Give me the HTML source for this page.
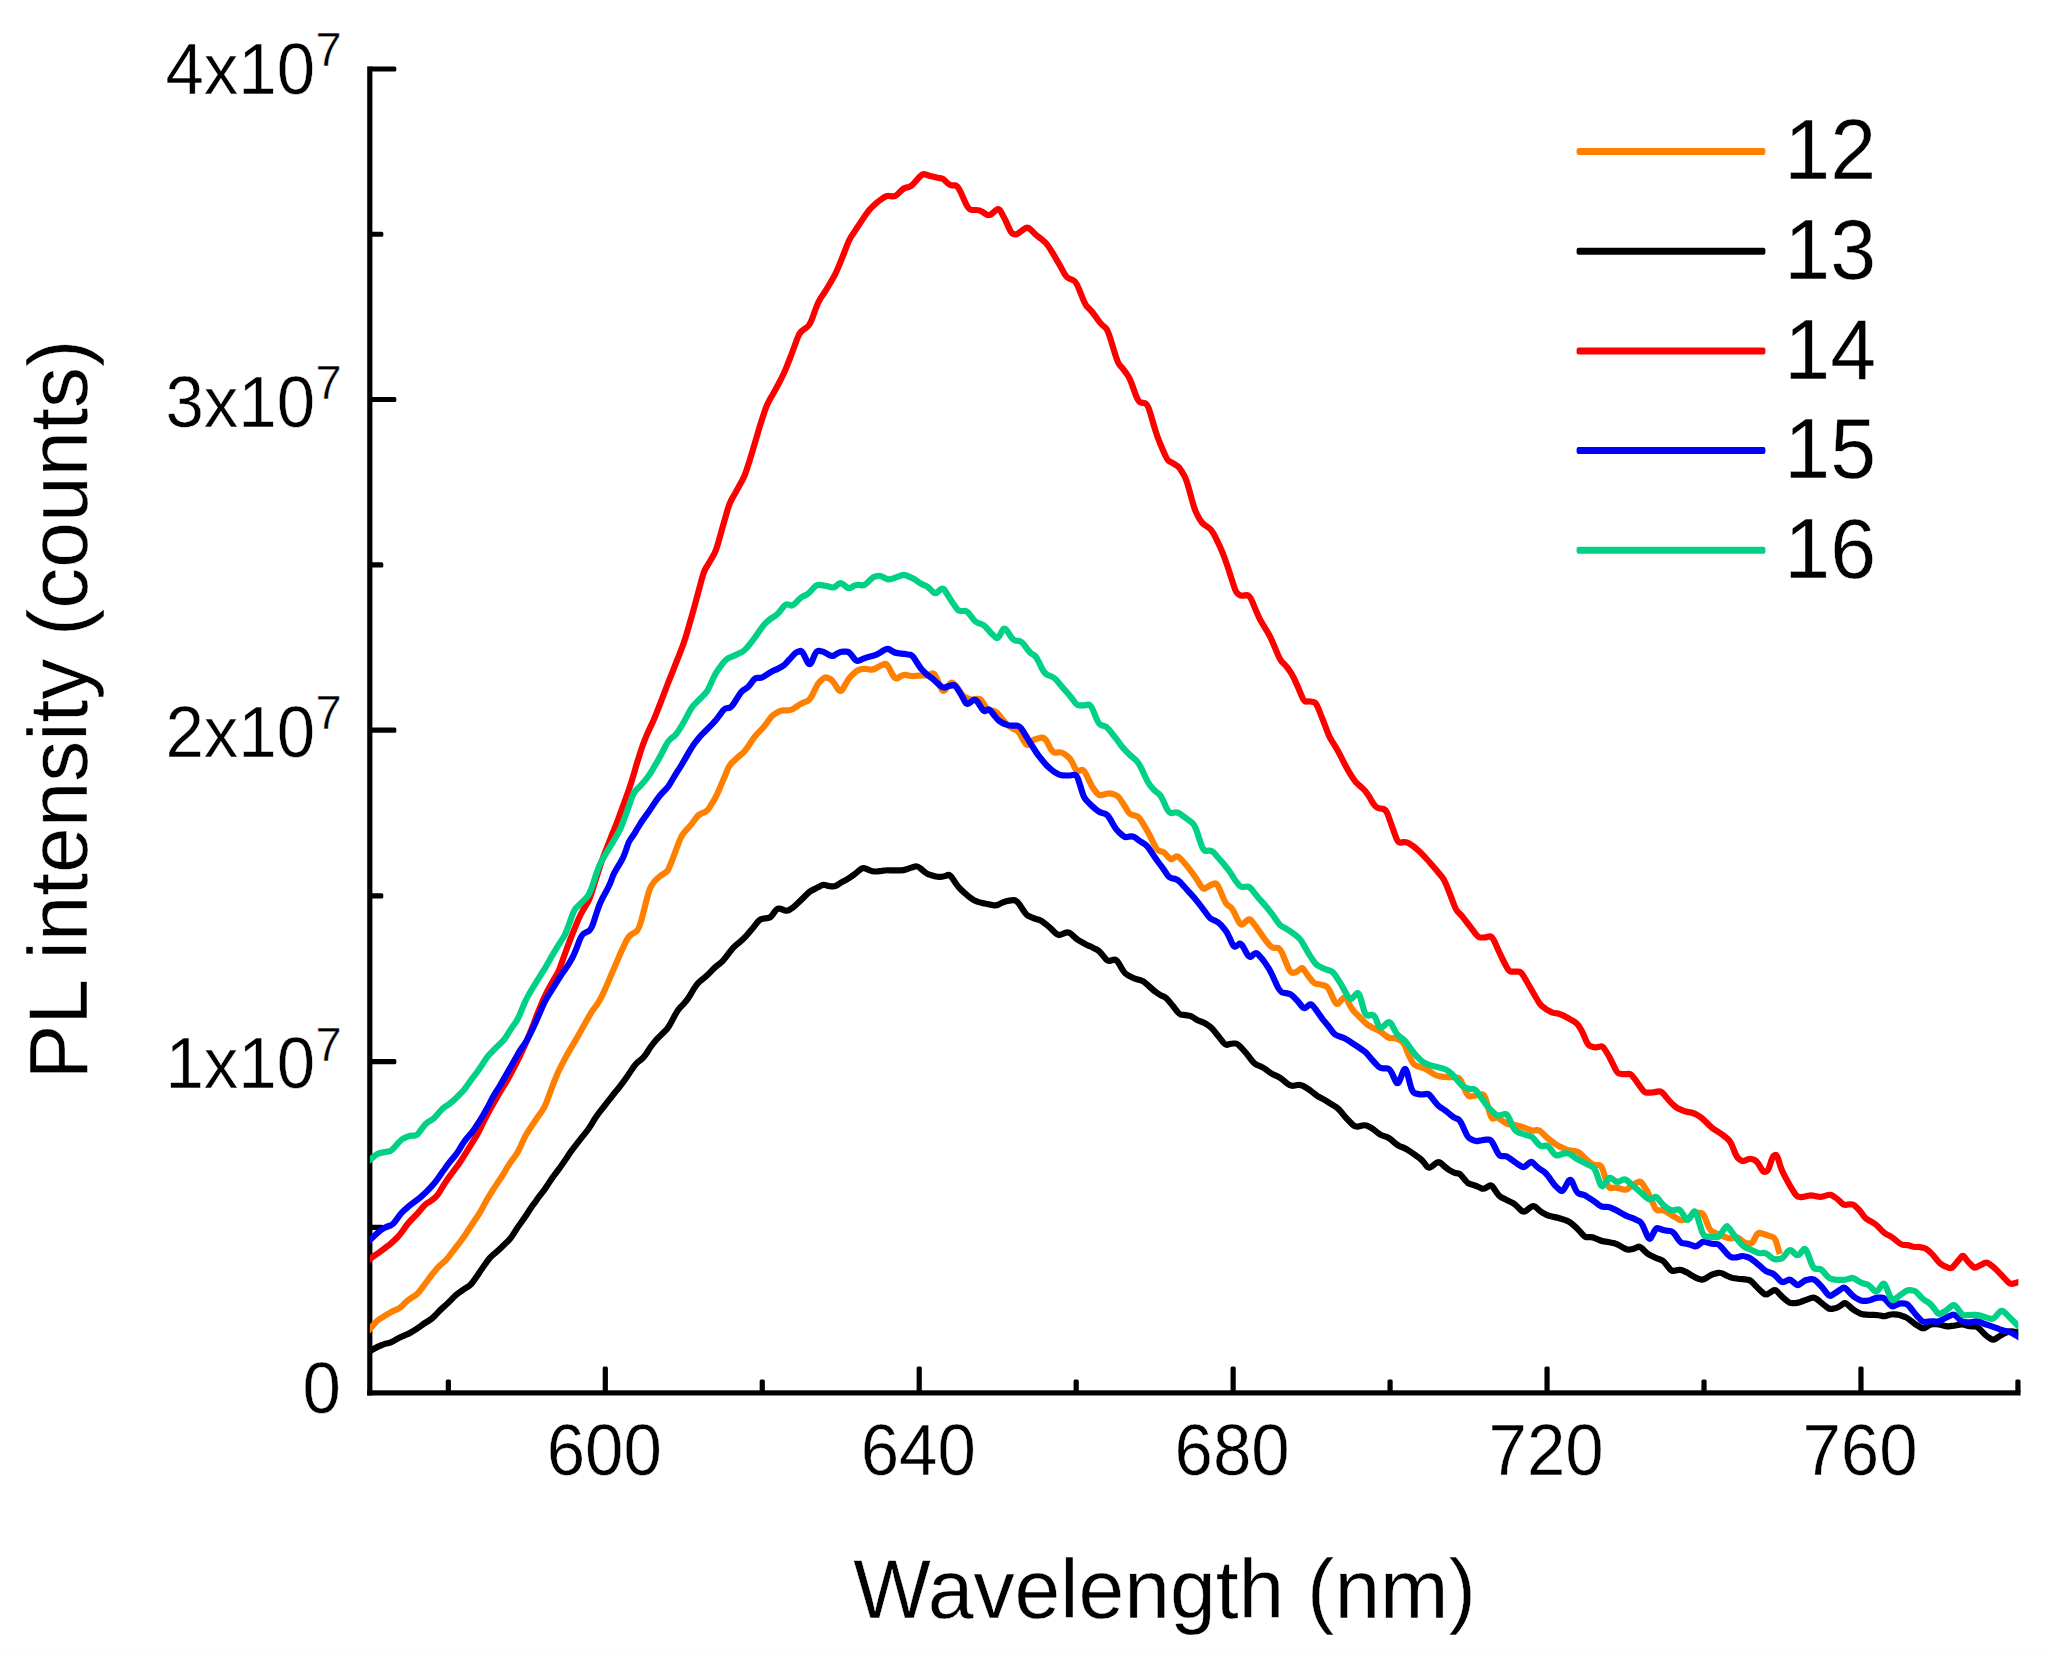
<!DOCTYPE html>
<html lang="en"><head><meta charset="utf-8"><title>PL intensity vs wavelength</title>
<style>html,body{margin:0;padding:0;background:#fff;}body{width:2049px;height:1661px;overflow:hidden;}svg{display:block;}text{font-family:"Liberation Sans",Arial,Helvetica,sans-serif;fill:#000;stroke:#fff;stroke-width:0.45px;}</style></head><body>
<svg width="2049" height="1661" viewBox="0 0 2049 1661">
<rect x="0" y="0" width="2049" height="1661" fill="#ffffff"/>
<rect x="0" y="1647" width="2049" height="3" fill="#fdfdfd"/>
<g fill="#000">
<rect x="367.20" y="66.40" width="5.2" height="1329.10"/>
<rect x="367.20" y="1390.30" width="1653.34" height="5.2"/>
<rect x="369.80" y="1224.70" width="13.5" height="5.2" rx="1.5"/>
<rect x="369.80" y="1059.10" width="26.5" height="5.2" rx="1.5"/>
<rect x="369.80" y="893.35" width="13.5" height="5.2" rx="1.5"/>
<rect x="369.80" y="727.60" width="26.5" height="5.2" rx="1.5"/>
<rect x="369.80" y="562.25" width="13.5" height="5.2" rx="1.5"/>
<rect x="369.80" y="396.90" width="26.5" height="5.2" rx="1.5"/>
<rect x="369.80" y="231.65" width="13.5" height="5.2" rx="1.5"/>
<rect x="369.80" y="66.40" width="26.5" height="5.2" rx="1.5"/>
<rect x="445.74" y="1379.40" width="5.2" height="13.5" rx="1.5"/>
<rect x="602.70" y="1366.40" width="5.2" height="26.5" rx="1.5"/>
<rect x="759.66" y="1379.40" width="5.2" height="13.5" rx="1.5"/>
<rect x="916.62" y="1366.40" width="5.2" height="26.5" rx="1.5"/>
<rect x="1073.58" y="1379.40" width="5.2" height="13.5" rx="1.5"/>
<rect x="1230.54" y="1366.40" width="5.2" height="26.5" rx="1.5"/>
<rect x="1387.50" y="1379.40" width="5.2" height="13.5" rx="1.5"/>
<rect x="1544.46" y="1366.40" width="5.2" height="26.5" rx="1.5"/>
<rect x="1701.42" y="1379.40" width="5.2" height="13.5" rx="1.5"/>
<rect x="1858.38" y="1366.40" width="5.2" height="26.5" rx="1.5"/>
<rect x="2015.34" y="1379.40" width="5.2" height="13.5" rx="1.5"/>
</g>
<clipPath id="plotclip"><rect x="369.80" y="60" width="1648.54" height="1340"/></clipPath>
<g fill="none" stroke-width="6.2" stroke-linejoin="round" stroke-linecap="butt" clip-path="url(#plotclip)">
<path stroke="#ff8000" d="M364.1,1335.5L368.3,1330.7Q370.1,1328.7 372.4,1326.2L375.4,1322.8Q377.6,1320.2 379.8,1318.9L382.8,1317.1Q385.0,1315.7 387.2,1314.4L390.2,1312.6Q392.4,1311.3 394.6,1310.4L397.6,1309.1Q399.8,1308.2 402.4,1305.7L405.8,1302.2Q408.3,1299.7 410.9,1298.2L414.3,1296.1Q416.9,1294.6 419.2,1291.6L422.3,1287.7Q424.5,1284.7 426.8,1281.5L429.9,1277.3Q432.2,1274.1 434.3,1271.7L437.0,1268.5Q439.0,1266.1 441.1,1264.4L443.8,1262.1Q445.9,1260.4 448.5,1257.1L451.9,1252.7Q454.4,1249.4 457.0,1246.0L460.4,1241.6Q463.0,1238.2 465.6,1234.3L469.0,1229.0Q471.6,1225.1 474.1,1221.3L477.5,1216.3Q480.1,1212.6 482.1,1208.7L484.9,1203.4Q486.9,1199.5 488.9,1196.3L491.7,1191.9Q493.7,1188.7 496.1,1185.1L499.3,1180.3Q501.7,1176.8 504.1,1172.8L507.2,1167.5Q509.6,1163.6 512.0,1160.3L515.2,1156.0Q517.6,1152.8 520.2,1147.2L523.6,1139.6Q526.2,1134.0 529.0,1129.9L532.8,1124.3Q535.6,1120.2 538.4,1116.1L542.2,1110.7Q545.0,1106.7 547.0,1101.0L549.8,1093.4Q551.8,1087.6 553.8,1082.6L556.6,1075.8Q558.6,1070.8 561.2,1065.9L564.6,1059.3Q567.2,1054.4 569.7,1050.1L573.1,1044.4Q575.7,1040.1 578.0,1035.9L581.1,1030.4Q583.4,1026.2 585.7,1022.2L588.8,1016.8Q591.1,1012.7 593.6,1009.1L597.1,1004.4Q599.6,1000.8 601.7,996.4L604.4,990.6Q606.5,986.2 608.5,981.4L611.2,974.9Q613.3,970.0 615.6,964.6L618.7,957.4Q621.0,952.0 623.3,947.2L626.4,940.7Q628.7,935.9 631.8,934.2L635.8,931.8Q638.9,930.1 642.0,918.0L646.1,901.8Q649.2,889.7 650.7,887.1L652.8,883.7Q654.3,881.1 656.4,879.4L659.1,877.0Q661.1,875.3 663.2,874.0L665.9,872.2Q668.0,870.9 670.0,865.6L672.8,858.6Q674.8,853.3 676.8,847.8L679.6,840.5Q681.6,835.0 684.2,832.3L687.6,828.6Q690.2,825.9 692.7,822.5L696.1,817.9Q698.7,814.5 701.3,813.5L704.7,812.1Q707.3,811.1 709.8,807.0L713.2,801.5Q715.8,797.4 717.9,792.6L720.6,786.2Q722.6,781.4 724.7,776.5L727.4,769.9Q729.5,765.0 731.8,762.9L734.9,760.0Q737.1,757.9 739.4,755.9L742.5,753.3Q744.8,751.3 747.9,746.7L752.0,740.5Q755.1,735.9 757.6,733.4L761.1,729.9Q763.6,727.4 766.2,723.8L769.6,719.0Q772.2,715.4 774.8,713.9L778.2,711.8Q780.7,710.3 783.8,710.3L787.9,710.3Q791.0,710.3 794.1,708.3L798.1,705.5Q801.2,703.5 803.8,702.5L807.2,701.1Q809.7,700.1 812.3,695.0L815.7,688.1Q818.3,683.0 820.3,681.1L823.1,678.7Q825.1,676.8 827.1,677.6L829.9,678.8Q831.9,679.6 834.5,683.7L837.9,689.1Q840.5,693.2 843.0,688.6L846.5,682.5Q849.0,677.9 851.6,675.5L855.0,672.4Q857.6,670.0 859.6,669.6L862.4,669.0Q864.4,668.6 866.9,669.0L870.4,669.6Q872.9,670.0 875.0,668.8L877.7,667.1Q879.8,665.9 881.8,665.1L884.6,664.0Q886.6,663.2 889.1,668.1L892.6,674.7Q895.1,679.6 897.7,678.0L901.1,676.0Q903.7,674.4 906.2,674.9L909.7,675.7Q912.2,676.2 914.8,676.0L918.2,675.7Q920.8,675.5 922.8,675.5L925.6,675.4Q927.6,675.3 929.6,674.5L932.4,673.5Q934.4,672.7 937.0,678.9L940.4,687.1Q943.0,693.2 945.5,689.6L949.0,684.9Q951.5,681.3 953.3,683.3L955.7,685.9Q957.5,687.8 959.3,690.5L961.7,694.0Q963.5,696.7 966.0,697.7L969.5,699.1Q972.0,700.1 974.6,699.6L978.0,698.9Q980.6,698.4 982.6,702.0L985.4,706.7Q987.4,710.3 989.9,710.5L993.4,710.8Q995.9,711.0 999.0,714.9L1003.1,720.1Q1006.2,724.0 1008.0,725.3L1010.4,727.0Q1012.2,728.3 1013.9,729.1L1016.3,730.1Q1018.1,730.8 1020.7,735.4L1024.1,741.6Q1026.7,746.2 1028.7,744.2L1031.5,741.4Q1033.5,739.4 1036.8,738.7L1041.1,737.7Q1044.4,737.0 1047.0,741.8L1050.4,748.2Q1053.0,753.0 1055.5,752.7L1059.0,752.3Q1061.5,752.0 1064.0,753.8L1067.5,756.3Q1070.0,758.1 1072.1,762.2L1074.8,767.7Q1076.9,771.8 1078.9,771.0L1081.7,769.9Q1083.7,769.1 1086.2,774.5L1089.7,781.8Q1092.2,787.2 1094.3,789.8L1097.0,793.2Q1099.1,795.7 1102.2,794.9L1106.2,793.8Q1109.3,793.0 1111.9,793.8L1115.3,794.9Q1117.9,795.7 1119.7,798.4L1122.1,801.9Q1123.8,804.6 1125.6,807.5L1128.0,811.5Q1129.8,814.5 1132.4,815.0L1135.8,815.7Q1138.4,816.2 1141.0,820.3L1144.4,825.8Q1146.9,829.9 1150.0,836.0L1154.0,844.2Q1157.1,850.4 1159.2,850.9L1161.9,851.6Q1164.0,852.1 1166.0,854.5L1168.8,857.6Q1170.8,860.0 1172.8,858.6L1175.6,856.9Q1177.6,855.5 1180.2,858.3L1183.6,862.0Q1186.2,864.8 1188.7,868.2L1192.1,872.6Q1194.7,876.0 1197.3,880.1L1200.7,885.6Q1203.3,889.7 1205.3,888.4L1208.1,886.6Q1210.1,885.3 1212.1,884.5L1214.9,883.5Q1216.9,882.8 1219.5,888.9L1222.9,897.1Q1225.5,903.3 1227.5,904.9L1230.3,906.9Q1232.3,908.5 1234.8,913.8L1238.2,920.9Q1240.8,926.2 1243.4,923.7L1246.8,920.5Q1249.4,918.0 1251.7,921.0L1254.8,925.1Q1257.1,928.1 1259.4,931.4L1262.5,935.9Q1264.8,939.2 1266.8,941.8L1269.6,945.2Q1271.6,947.8 1274.1,947.8L1277.5,947.8Q1280.1,947.8 1283.2,955.5L1287.3,965.7Q1290.4,973.4 1292.4,972.9L1295.2,972.2Q1297.2,971.7 1298.7,970.4L1300.8,968.6Q1302.3,967.2 1304.1,969.9L1306.5,973.5Q1308.3,976.2 1310.1,978.4L1312.5,981.4Q1314.3,983.6 1316.4,983.9L1319.1,984.2Q1321.2,984.5 1323.2,985.2L1325.9,986.2Q1328.0,987.0 1330.5,992.6L1334.0,1000.2Q1336.5,1005.8 1339.0,1002.7L1342.5,998.7Q1345.0,995.6 1347.1,999.7L1349.8,1005.1Q1351.9,1009.2 1354.2,1011.6L1357.3,1014.7Q1359.6,1017.1 1361.9,1019.4L1365.0,1022.4Q1367.3,1024.6 1369.2,1025.7L1371.7,1027.2Q1373.7,1028.3 1375.6,1029.1L1378.1,1030.3Q1380.0,1031.2 1382.6,1033.3L1386.2,1036.0Q1388.8,1038.1 1390.8,1038.1L1393.6,1038.1Q1395.6,1038.1 1397.9,1039.3L1401.1,1040.8Q1403.4,1042.0 1405.2,1046.4L1407.5,1052.2Q1409.3,1056.6 1410.8,1059.2L1412.7,1062.8Q1414.2,1065.4 1417.4,1066.3L1421.7,1067.4Q1424.9,1068.3 1428.4,1070.6L1433.1,1073.8Q1436.6,1076.1 1439.8,1076.4L1444.1,1076.8Q1447.3,1077.1 1449.2,1077.2L1451.7,1077.2Q1453.7,1077.3 1455.6,1077.5L1458.1,1077.9Q1460.0,1078.1 1462.3,1083.6L1465.5,1091.0Q1467.8,1096.6 1470.2,1096.3L1473.3,1096.0Q1475.7,1095.7 1478.3,1095.1L1481.8,1094.3Q1484.4,1093.7 1486.5,1101.3L1489.2,1111.5Q1491.3,1119.1 1493.0,1118.5L1495.4,1117.7Q1497.1,1117.1 1500.0,1119.2L1504.0,1121.9Q1506.9,1124.0 1509.2,1124.3L1512.4,1124.6Q1514.7,1124.9 1517.0,1125.5L1520.2,1126.3Q1522.5,1126.9 1525.4,1128.1L1529.4,1129.6Q1532.3,1130.8 1534.3,1130.5L1537.1,1130.1Q1539.1,1129.8 1541.7,1132.4L1545.3,1136.0Q1547.9,1138.6 1550.8,1140.6L1554.7,1143.4Q1557.6,1145.4 1560.5,1146.9L1564.5,1148.8Q1567.4,1150.3 1570.6,1150.6L1574.9,1151.0Q1578.1,1151.3 1580.2,1153.3L1582.9,1156.1Q1585.0,1158.1 1587.3,1160.2L1590.5,1162.9Q1592.8,1165.0 1595.4,1165.0L1599.0,1165.0Q1601.6,1165.0 1603.6,1172.0L1606.4,1181.4Q1608.4,1188.4 1610.7,1188.1L1613.9,1187.7Q1616.2,1187.4 1619.1,1188.3L1623.1,1189.4Q1626.0,1190.3 1627.7,1188.9L1630.1,1186.9Q1631.8,1185.5 1634.4,1184.0L1638.0,1182.1Q1640.6,1180.6 1642.9,1184.4L1646.1,1189.5Q1648.4,1193.3 1650.7,1198.5L1653.9,1205.5Q1656.2,1210.8 1658.3,1210.5L1661.0,1210.2Q1663.1,1209.9 1666.0,1211.6L1669.9,1214.0Q1672.8,1215.7 1675.1,1217.2L1678.3,1219.1Q1680.6,1220.6 1682.9,1220.0L1686.1,1219.2Q1688.4,1218.6 1690.2,1216.9L1692.5,1214.5Q1694.3,1212.8 1696.9,1212.8L1700.5,1212.8Q1703.1,1212.8 1705.1,1218.1L1707.9,1225.1Q1709.9,1230.4 1712.2,1231.6L1715.4,1233.1Q1717.7,1234.3 1719.5,1235.0L1722.0,1235.9Q1723.8,1236.6 1725.7,1237.2L1728.2,1238.0Q1730.0,1238.6 1732.3,1238.1L1735.5,1237.5Q1737.8,1237.0 1739.7,1238.7L1742.1,1240.8Q1744.0,1242.5 1746.3,1243.0L1749.5,1243.5Q1751.8,1244.0 1753.7,1240.5L1756.1,1235.8Q1758.0,1232.3 1760.3,1233.0L1763.5,1234.0Q1765.8,1234.7 1768.6,1235.6L1772.3,1236.9Q1775.1,1237.8 1776.5,1242.7L1779.8,1254.1"/>
<path stroke="#000000" d="M364.1,1354.4L368.3,1352.0Q370.1,1351.0 372.2,1349.8L375.0,1348.2Q377.1,1347.0 379.2,1346.1L382.1,1345.0Q384.2,1344.1 386.3,1343.6L389.1,1342.9Q391.2,1342.4 393.8,1340.9L397.2,1338.9Q399.8,1337.4 402.3,1336.3L405.7,1334.9Q408.3,1333.9 410.7,1332.5L413.9,1330.6Q416.3,1329.2 418.7,1327.5L421.8,1325.2Q424.2,1323.4 426.6,1322.0L429.8,1320.0Q432.2,1318.5 434.6,1316.0L437.8,1312.6Q440.2,1310.1 442.6,1307.9L445.8,1305.0Q448.2,1302.8 450.6,1300.3L453.8,1297.1Q456.2,1294.6 458.5,1293.0L461.6,1290.9Q463.9,1289.3 466.1,1287.8L469.2,1285.8Q471.5,1284.3 474.3,1280.0L478.1,1274.4Q480.9,1270.1 483.7,1266.2L487.5,1260.9Q490.3,1257.0 492.4,1255.3L495.1,1253.1Q497.1,1251.5 499.2,1249.5L501.9,1246.9Q504.0,1245.0 506.0,1242.9L508.8,1240.2Q510.8,1238.2 512.9,1234.9L515.6,1230.6Q517.6,1227.3 519.7,1224.5L522.4,1220.7Q524.5,1217.9 526.5,1214.8L529.2,1210.6Q531.3,1207.5 533.3,1204.6L536.1,1200.8Q538.1,1197.9 540.2,1195.2L542.9,1191.7Q545.0,1189.1 547.0,1185.9L549.8,1181.6Q551.8,1178.4 554.5,1174.8L558.2,1170.0Q560.9,1166.5 563.6,1162.4L567.3,1156.9Q570.0,1152.8 572.7,1149.2L576.4,1144.4Q579.1,1140.8 581.8,1137.4L585.5,1132.9Q588.2,1129.5 591.0,1125.1L594.6,1119.2Q597.4,1114.8 600.1,1111.4L603.8,1106.8Q606.5,1103.3 608.5,1100.7L611.3,1097.2Q613.3,1094.5 615.3,1092.0L618.1,1088.7Q620.1,1086.2 622.4,1083.1L625.5,1078.9Q627.8,1075.8 630.1,1072.2L633.2,1067.5Q635.5,1064.0 638.1,1061.9L641.5,1059.2Q644.1,1057.1 645.9,1054.3L648.3,1050.5Q650.0,1047.7 651.8,1045.4L654.2,1042.4Q656.0,1040.1 657.8,1038.3L660.2,1035.9Q662.0,1034.1 663.8,1032.3L666.2,1029.9Q668.0,1028.1 671.1,1022.5L675.1,1014.9Q678.2,1009.3 680.8,1006.8L684.2,1003.3Q686.8,1000.8 689.9,995.7L693.9,988.8Q697.0,983.7 700.1,981.2L704.2,977.8Q707.3,975.2 709.6,972.8L712.7,969.6Q715.0,967.2 717.2,965.5L720.3,963.2Q722.6,961.5 725.7,957.4L729.8,951.9Q732.9,947.8 736.0,945.2L740.0,941.8Q743.1,939.3 745.7,936.4L749.1,932.4Q751.7,929.5 754.2,926.3L757.6,922.0Q760.2,918.8 763.3,918.6L767.4,918.2Q770.5,918.0 772.5,914.9L775.3,910.9Q777.3,907.8 780.4,908.8L784.4,910.2Q787.5,911.2 789.3,910.0L791.7,908.3Q793.5,907.1 795.3,905.4L797.7,903.2Q799.5,901.6 802.6,898.5L806.6,894.5Q809.7,891.4 811.8,890.4L814.5,889.1Q816.5,888.1 818.6,887.0L821.3,885.6Q823.4,884.5 825.2,885.1L827.6,885.8Q829.4,886.4 831.2,886.4L833.6,886.3Q835.4,886.3 837.2,885.1L839.6,883.5Q841.3,882.4 843.1,881.5L845.5,880.3Q847.3,879.4 849.6,877.8L852.7,875.6Q855.0,874.0 857.3,872.0L860.4,869.4Q862.7,867.5 865.8,868.7L869.8,870.4Q872.9,871.6 875.0,871.5L877.7,871.3Q879.8,871.1 881.8,870.9L884.5,870.5Q886.6,870.2 889.2,870.3L892.6,870.3Q895.2,870.4 897.7,870.3L901.1,870.3Q903.7,870.2 905.8,869.5L908.5,868.6Q910.5,867.9 912.6,867.3L915.3,866.4Q917.4,865.8 920.5,868.3L924.5,871.8Q927.6,874.3 930.7,875.1L934.8,876.2Q937.9,877.0 939.7,876.9L942.1,876.7Q943.8,876.5 945.6,875.9L948.0,875.0Q949.8,874.3 952.4,878.2L955.8,883.4Q958.4,887.3 961.5,890.1L965.5,893.7Q968.6,896.5 970.4,897.8L972.8,899.5Q974.6,900.8 976.4,901.3L978.8,902.1Q980.6,902.7 982.9,903.1L986.0,903.7Q988.2,904.1 990.5,904.6L993.6,905.2Q995.9,905.7 999.0,904.3L1003.1,902.3Q1006.2,900.9 1009.3,900.6L1013.3,900.2Q1016.4,899.9 1019.5,904.5L1023.6,910.7Q1026.7,915.3 1028.8,916.2L1031.7,917.4Q1033.8,918.3 1036.0,919.0L1038.9,919.8Q1041.0,920.5 1043.6,922.5L1047.0,925.1Q1049.5,927.1 1052.1,929.7L1055.5,933.2Q1058.1,935.9 1061.2,934.5L1065.2,932.8Q1068.3,931.4 1070.9,933.8L1074.3,936.9Q1076.9,939.3 1079.1,940.6L1082.1,942.3Q1084.3,943.6 1086.5,944.7L1089.5,946.1Q1091.7,947.2 1093.9,948.2L1096.9,949.6Q1099.1,950.6 1101.6,953.9L1105.0,958.2Q1107.6,961.5 1110.2,960.8L1113.6,959.8Q1116.2,959.1 1118.8,963.4L1122.2,969.2Q1124.7,973.5 1127.5,975.0L1131.3,977.0Q1134.1,978.5 1136.9,979.3L1140.7,980.3Q1143.5,981.0 1146.6,983.9L1150.6,987.6Q1153.7,990.5 1155.5,991.8L1157.9,993.5Q1159.7,994.8 1161.5,995.6L1163.9,996.6Q1165.7,997.4 1167.8,999.8L1170.5,1003.0Q1172.6,1005.3 1174.6,1008.1L1177.3,1011.7Q1179.4,1014.4 1181.2,1014.6L1183.6,1014.8Q1185.3,1015.0 1187.1,1015.4L1189.5,1015.8Q1191.3,1016.2 1193.3,1017.5L1196.1,1019.3Q1198.1,1020.6 1200.2,1021.3L1202.9,1022.2Q1205.0,1022.9 1207.0,1024.5L1209.8,1026.5Q1211.8,1028.1 1213.9,1030.6L1216.6,1034.0Q1218.7,1036.6 1220.7,1039.1L1223.4,1042.6Q1225.5,1045.2 1227.3,1044.7L1229.7,1044.0Q1231.5,1043.5 1233.2,1043.5L1235.6,1043.5Q1237.4,1043.5 1240.0,1046.3L1243.4,1050.0Q1246.0,1052.8 1248.5,1056.1L1251.9,1060.6Q1254.5,1064.0 1257.1,1065.0L1260.5,1066.4Q1263.0,1067.4 1265.6,1069.3L1269.0,1071.9Q1271.6,1073.8 1274.1,1074.9L1277.5,1076.4Q1280.1,1077.6 1283.2,1080.2L1287.3,1083.6Q1290.4,1086.2 1293.5,1085.7L1297.5,1085.0Q1300.6,1084.5 1303.2,1086.0L1306.6,1088.0Q1309.2,1089.5 1311.7,1091.6L1315.1,1094.3Q1317.7,1096.4 1319.8,1097.4L1322.5,1098.7Q1324.5,1099.7 1326.6,1101.1L1329.3,1102.8Q1331.4,1104.1 1333.4,1105.4L1336.2,1107.1Q1338.2,1108.4 1340.8,1111.5L1344.2,1115.7Q1346.8,1118.8 1349.3,1121.3L1352.7,1124.7Q1355.3,1127.2 1358.4,1126.5L1362.4,1125.5Q1365.5,1124.8 1367.7,1126.0L1370.6,1127.5Q1372.8,1128.7 1374.9,1130.5L1377.8,1132.9Q1380.0,1134.7 1382.6,1135.6L1386.2,1136.7Q1388.8,1137.6 1391.4,1139.9L1395.0,1143.1Q1397.6,1145.4 1399.9,1146.3L1403.1,1147.5Q1405.4,1148.4 1408.0,1150.1L1411.6,1152.5Q1414.2,1154.2 1416.5,1156.0L1419.7,1158.3Q1422.0,1160.1 1424.0,1162.7L1426.8,1166.3Q1428.8,1168.9 1431.7,1166.6L1435.7,1163.4Q1438.6,1161.1 1441.2,1163.4L1444.7,1166.6Q1447.3,1168.9 1449.4,1170.1L1452.1,1171.6Q1454.2,1172.8 1455.9,1173.1L1458.3,1173.4Q1460.0,1173.7 1462.3,1176.6L1465.5,1180.6Q1467.8,1183.5 1470.2,1184.1L1473.3,1184.9Q1475.7,1185.5 1478.0,1186.7L1481.2,1188.2Q1483.5,1189.4 1485.8,1187.9L1489.0,1186.0Q1491.3,1184.5 1493.6,1188.0L1496.8,1192.7Q1499.1,1196.2 1501.4,1197.4L1504.6,1198.9Q1506.9,1200.1 1509.2,1201.3L1512.4,1202.8Q1514.7,1204.0 1517.3,1206.6L1520.9,1210.2Q1523.5,1212.8 1526.4,1210.5L1530.3,1207.3Q1533.2,1205.0 1535.6,1207.0L1538.7,1209.8Q1541.1,1211.8 1543.1,1213.0L1545.9,1214.5Q1547.9,1215.7 1550.8,1216.3L1554.7,1217.1Q1557.6,1217.7 1559.4,1218.2L1561.7,1219.0Q1563.5,1219.5 1565.3,1220.1L1567.6,1221.0Q1569.4,1221.6 1571.7,1223.6L1574.9,1226.4Q1577.2,1228.4 1579.5,1231.0L1582.7,1234.6Q1585.0,1237.2 1587.3,1237.2L1590.5,1237.2Q1592.8,1237.2 1595.4,1238.4L1599.0,1239.9Q1601.6,1241.1 1603.9,1241.4L1607.1,1241.8Q1609.4,1242.1 1611.7,1242.7L1614.9,1243.4Q1617.2,1244.0 1620.1,1245.8L1624.0,1248.1Q1626.9,1249.9 1629.0,1249.6L1631.7,1249.2Q1633.8,1248.9 1635.5,1248.0L1637.9,1246.9Q1639.6,1246.0 1641.9,1248.3L1645.1,1251.5Q1647.4,1253.8 1649.8,1255.0L1652.9,1256.5Q1655.3,1257.7 1657.6,1258.6L1660.8,1259.7Q1663.1,1260.6 1665.7,1263.8L1669.2,1268.2Q1671.8,1271.4 1674.4,1270.8L1678.0,1270.0Q1680.6,1269.4 1682.9,1270.6L1686.1,1272.1Q1688.4,1273.3 1690.8,1274.8L1693.9,1276.7Q1696.3,1278.2 1698.3,1278.8L1701.1,1279.5Q1703.1,1280.1 1705.7,1278.4L1709.3,1276.0Q1711.9,1274.3 1714.5,1273.7L1718.1,1272.9Q1720.7,1272.3 1723.5,1273.9L1727.2,1275.9Q1730.0,1277.5 1732.8,1278.0L1736.5,1278.5Q1739.3,1279.0 1742.6,1279.2L1746.9,1279.6Q1750.2,1279.8 1752.5,1282.4L1755.7,1285.8Q1758.0,1288.4 1760.3,1290.5L1763.5,1293.3Q1765.8,1295.4 1768.6,1293.5L1772.3,1291.1Q1775.1,1289.2 1777.2,1291.5L1780.1,1294.6Q1782.2,1296.9 1784.5,1298.8L1787.6,1301.3Q1789.9,1303.2 1792.0,1303.2L1794.8,1303.2Q1796.9,1303.2 1799.5,1302.3L1802.9,1301.0Q1805.5,1300.1 1808.1,1299.1L1811.5,1297.9Q1814.1,1296.9 1816.4,1298.8L1819.6,1301.3Q1821.9,1303.2 1824.2,1305.1L1827.3,1307.5Q1829.6,1309.4 1831.9,1308.9L1835.1,1308.3Q1837.4,1307.8 1839.7,1306.2L1842.9,1304.0Q1845.2,1302.4 1847.5,1304.5L1850.7,1307.3Q1853.0,1309.4 1855.3,1310.8L1858.5,1312.7Q1860.8,1314.1 1863.1,1314.3L1866.3,1314.6Q1868.6,1314.8 1870.9,1314.8L1874.0,1314.8Q1876.3,1314.8 1878.6,1315.3L1881.8,1315.9Q1884.1,1316.4 1886.4,1315.7L1889.6,1314.8Q1891.9,1314.1 1894.2,1314.3L1897.4,1314.6Q1899.7,1314.8 1902.0,1315.8L1905.2,1317.0Q1907.5,1318.0 1909.8,1319.9L1913.0,1322.3Q1915.3,1324.2 1917.6,1325.6L1920.8,1327.5Q1923.1,1328.9 1925.4,1327.5L1928.5,1325.6Q1930.8,1324.2 1933.1,1324.2L1936.3,1324.2Q1938.6,1324.2 1940.9,1324.9L1944.1,1325.8Q1946.4,1326.5 1948.7,1326.3L1951.9,1325.9Q1954.2,1325.7 1956.5,1325.2L1959.7,1324.7Q1962.0,1324.2 1964.3,1324.9L1967.5,1325.8Q1969.8,1326.5 1972.1,1326.5L1975.2,1326.5Q1977.5,1326.5 1979.8,1329.1L1983.0,1332.5Q1985.3,1335.1 1987.6,1336.7L1990.8,1338.9Q1993.1,1340.5 1995.4,1338.9L1998.6,1336.7Q2000.9,1335.1 2003.2,1333.9L2006.4,1332.4Q2008.7,1331.2 2011.5,1331.4L2015.2,1331.8Q2018.0,1332.0 2019.8,1332.2L2024.0,1332.5"/>
<path stroke="#ff0000" d="M364.1,1262.9L368.3,1260.0Q370.1,1258.7 372.2,1257.2L375.1,1255.2Q377.2,1253.7 379.4,1252.2L382.3,1250.1Q384.4,1248.5 386.7,1246.7L389.8,1244.4Q392.1,1242.6 394.4,1240.3L397.5,1237.2Q399.8,1234.8 402.4,1231.2L405.8,1226.4Q408.3,1222.8 410.9,1220.2L414.3,1216.8Q416.9,1214.3 419.4,1211.2L422.8,1207.2Q425.4,1204.1 427.2,1203.1L429.6,1201.8Q431.4,1200.7 433.2,1199.2L435.6,1197.1Q437.4,1195.5 439.2,1192.5L441.6,1188.5Q443.4,1185.5 445.1,1182.9L447.5,1179.3Q449.3,1176.7 452.4,1172.6L456.5,1167.2Q459.6,1163.1 462.2,1158.9L465.6,1153.4Q468.1,1149.2 470.7,1145.1L474.1,1139.7Q476.7,1135.7 479.8,1129.5L483.8,1121.4Q486.9,1115.2 489.0,1111.5L491.7,1106.6Q493.8,1102.9 495.8,1099.4L498.5,1094.8Q500.6,1091.3 503.2,1087.0L506.6,1081.3Q509.1,1076.9 511.7,1072.0L515.1,1065.5Q517.6,1060.6 519.7,1056.3L522.4,1050.7Q524.5,1046.4 526.5,1041.4L529.2,1034.8Q531.3,1029.8 533.4,1024.4L536.1,1017.2Q538.1,1011.8 540.2,1007.0L542.9,1000.5Q545.0,995.7 547.0,991.8L549.8,986.7Q551.8,982.9 553.8,979.5L556.6,975.0Q558.6,971.7 560.7,965.9L563.4,958.1Q565.5,952.3 567.5,946.8L570.2,939.6Q572.3,934.2 574.8,928.1L578.2,919.9Q580.8,913.7 583.4,909.6L586.8,904.0Q589.4,899.9 591.5,893.3L594.2,884.5Q596.2,877.9 598.3,871.7L601.0,863.4Q603.1,857.2 605.1,852.1L607.9,845.2Q609.9,840.1 611.9,835.0L614.7,828.2Q616.7,823.1 618.8,817.5L621.5,810.1Q623.5,804.5 625.6,798.8L628.3,791.2Q630.4,785.5 632.2,779.4L634.6,771.3Q636.3,765.2 638.1,759.5L640.5,751.9Q642.3,746.2 644.1,741.7L646.5,735.7Q648.3,731.3 650.1,727.6L652.5,722.6Q654.3,718.9 656.6,712.9L659.7,704.9Q662.0,698.9 664.3,692.9L667.3,685.0Q669.6,679.0 672.0,673.2L675.0,665.5Q677.3,659.7 679.6,653.8L682.7,645.8Q685.0,639.8 687.8,629.9L691.6,616.7Q694.4,606.8 697.2,596.2L701.0,582.0Q703.8,571.4 705.6,568.5L708.0,564.6Q709.8,561.7 711.6,558.5L714.0,554.2Q715.8,551.0 717.9,543.8L720.6,534.3Q722.6,527.1 724.7,519.9L727.4,510.3Q729.5,503.1 731.8,499.1L734.9,493.8Q737.1,489.8 739.4,485.6L742.5,480.0Q744.8,475.8 747.0,468.8L750.0,459.4Q752.2,452.4 754.4,444.7L757.4,434.5Q759.6,426.8 761.8,420.0L764.8,410.9Q767.0,404.1 769.6,399.8L773.0,394.0Q775.5,389.7 778.1,384.8L781.5,378.2Q784.1,373.3 786.4,367.4L789.5,359.5Q791.8,353.5 794.1,347.2L797.2,338.7Q799.5,332.3 802.6,330.3L806.6,327.5Q809.7,325.5 812.3,318.3L815.7,308.8Q818.3,301.6 820.9,297.8L824.3,292.7Q826.8,288.9 829.4,284.5L832.8,278.6Q835.4,274.2 837.4,269.3L840.2,262.8Q842.2,257.9 844.2,252.6L847.0,245.4Q849.0,240.1 851.0,236.9L853.8,232.7Q855.8,229.6 857.9,226.5L860.6,222.4Q862.7,219.3 864.7,216.3L867.5,212.3Q869.5,209.3 872.1,207.0L875.5,203.8Q878.0,201.5 880.6,199.7L884.0,197.4Q886.6,195.7 889.1,196.0L892.6,196.4Q895.1,196.7 897.7,194.1L901.1,190.7Q903.7,188.1 906.0,187.6L909.0,186.9Q911.2,186.4 914.6,182.5L919.1,177.4Q922.5,173.5 924.8,174.3L927.9,175.3Q930.2,176.0 932.5,176.6L935.6,177.3Q937.9,177.9 939.4,178.1L941.5,178.4Q943.0,178.6 945.0,180.6L947.8,183.4Q949.8,185.4 952.2,185.4L955.3,185.4Q957.7,185.4 961.0,192.8L965.3,202.6Q968.6,210.0 971.9,210.0L976.2,210.0Q979.5,210.0 982.4,211.9L986.2,214.3Q989.1,216.2 992.0,213.6L995.8,210.2Q998.7,207.6 1000.6,211.1L1003.1,215.8Q1005.0,219.3 1006.9,223.4L1009.4,229.0Q1011.3,233.2 1012.8,233.7L1014.9,234.4Q1016.4,234.9 1019.7,232.3L1024.1,229.0Q1027.4,226.4 1030.0,229.0L1033.4,232.3Q1035.9,234.9 1039.0,237.3L1043.0,240.4Q1046.1,242.8 1048.1,245.9L1050.9,250.1Q1052.9,253.3 1055.0,256.9L1057.7,261.7Q1059.8,265.2 1061.8,268.9L1064.5,273.9Q1066.6,277.6 1069.4,278.7L1073.0,280.1Q1075.8,281.1 1078.7,288.3L1082.5,297.8Q1085.4,305.0 1087.4,307.0L1090.2,309.8Q1092.2,311.8 1094.8,315.4L1098.2,320.2Q1100.8,323.8 1102.8,325.5L1105.6,327.9Q1107.6,329.6 1110.7,339.7L1114.8,353.1Q1117.9,363.1 1119.7,365.1L1122.1,367.8Q1123.8,369.9 1125.6,372.4L1128.0,375.8Q1129.8,378.4 1132.4,385.6L1135.8,395.1Q1138.4,402.3 1141.2,402.6L1144.8,403.1Q1147.6,403.4 1150.4,413.3L1154.2,426.6Q1157.1,436.5 1160.2,443.7L1164.3,453.2Q1167.4,460.4 1169.2,461.3L1171.6,462.5Q1173.4,463.4 1175.2,464.6L1177.6,466.1Q1179.4,467.3 1181.4,470.9L1184.2,475.6Q1186.2,479.2 1188.8,488.4L1192.2,500.8Q1194.7,510.0 1196.8,513.9L1199.5,519.0Q1201.6,522.9 1204.7,525.0L1208.7,527.7Q1211.8,529.8 1214.9,536.2L1219.0,544.6Q1222.1,551.0 1224.1,556.8L1226.9,564.5Q1228.9,570.3 1230.9,576.8L1233.7,585.4Q1235.7,591.9 1237.2,593.1L1239.3,594.8Q1240.8,596.0 1243.4,595.6L1246.8,595.1Q1249.4,594.7 1252.5,602.1L1256.5,611.9Q1259.6,619.3 1262.7,624.2L1266.8,630.8Q1269.9,635.7 1273.0,643.0L1277.0,652.6Q1280.1,659.9 1281.9,661.7L1284.3,664.1Q1286.1,665.9 1287.9,668.4L1290.3,671.8Q1292.1,674.4 1293.9,678.2L1296.3,683.4Q1298.1,687.2 1299.9,691.6L1302.3,697.4Q1304.1,701.8 1305.9,701.6L1308.3,701.4Q1310.0,701.3 1311.8,701.7L1314.2,702.3Q1316.0,702.8 1318.1,707.9L1320.8,714.7Q1322.8,719.8 1324.9,725.2L1327.6,732.3Q1329.7,737.6 1332.3,741.7L1335.7,747.1Q1338.2,751.2 1340.8,756.3L1344.2,763.1Q1346.8,768.2 1349.3,772.4L1352.7,777.9Q1355.3,782.1 1358.4,784.6L1362.4,788.1Q1365.5,790.6 1368.6,795.7L1372.7,802.6Q1375.8,807.7 1378.9,808.2L1382.9,808.9Q1386.0,809.4 1387.8,814.5L1390.2,821.3Q1392.0,826.4 1393.8,831.4L1396.2,838.0Q1398.0,842.9 1400.5,842.6L1404.0,842.1Q1406.5,841.8 1408.6,843.1L1411.3,844.8Q1413.3,846.0 1415.4,847.9L1418.1,850.3Q1420.2,852.1 1422.6,854.6L1425.8,858.0Q1428.2,860.6 1430.6,863.4L1433.7,867.1Q1436.1,869.9 1438.5,872.8L1441.7,876.6Q1444.1,879.4 1445.9,883.9L1448.3,889.9Q1450.1,894.4 1451.9,899.2L1454.3,905.5Q1456.1,910.2 1457.9,911.9L1460.3,914.3Q1462.0,916.0 1463.8,918.4L1466.2,921.5Q1468.0,923.8 1471.1,927.9L1475.2,933.4Q1478.3,937.5 1480.3,937.5L1483.1,937.5Q1485.1,937.6 1487.1,937.0L1489.9,936.3Q1491.9,935.8 1494.5,941.6L1497.9,949.3Q1500.5,955.0 1503.0,960.0L1506.4,966.7Q1509.0,971.7 1510.8,971.7L1513.2,971.6Q1515.0,971.6 1516.8,971.6L1519.2,971.7Q1521.0,971.7 1523.8,976.5L1527.6,983.0Q1530.4,987.9 1533.2,992.7L1537.0,999.2Q1539.8,1004.1 1541.1,1005.2L1542.7,1006.7Q1544.0,1007.8 1546.3,1009.3L1549.5,1011.2Q1551.8,1012.7 1554.1,1013.0L1557.3,1013.4Q1559.6,1013.7 1561.9,1014.9L1565.1,1016.4Q1567.4,1017.6 1570.3,1019.3L1574.3,1021.7Q1577.2,1023.4 1578.6,1025.7L1580.6,1028.9Q1582.0,1031.2 1583.8,1035.3L1586.1,1040.8Q1587.9,1044.9 1589.9,1045.8L1592.7,1046.9Q1594.7,1047.8 1597.0,1047.2L1600.2,1046.5Q1602.5,1045.9 1604.6,1049.1L1607.3,1053.4Q1609.4,1056.6 1611.7,1061.6L1614.9,1068.2Q1617.2,1073.2 1618.9,1073.5L1621.3,1073.9Q1623.0,1074.2 1625.4,1074.1L1628.5,1073.9Q1630.9,1073.8 1632.9,1076.6L1635.7,1080.2Q1637.7,1083.0 1639.7,1085.9L1642.5,1089.8Q1644.5,1092.7 1646.8,1092.7L1650.0,1092.7Q1652.3,1092.7 1654.9,1092.1L1658.5,1091.4Q1661.1,1090.8 1663.4,1093.7L1666.6,1097.6Q1668.9,1100.5 1671.0,1102.6L1673.7,1105.3Q1675.8,1107.4 1678.4,1108.6L1681.9,1110.1Q1684.5,1111.3 1687.4,1111.9L1691.4,1112.6Q1694.3,1113.2 1696.6,1114.7L1699.8,1116.6Q1702.1,1118.1 1705.0,1121.0L1709.0,1125.0Q1711.9,1127.9 1714.2,1129.3L1717.4,1131.3Q1719.7,1132.7 1722.8,1135.0L1726.9,1138.2Q1730.0,1140.5 1732.1,1145.6L1734.9,1152.5Q1737.0,1157.6 1738.7,1158.8L1740.8,1160.3Q1742.5,1161.5 1744.8,1160.6L1747.9,1159.3Q1750.2,1158.4 1752.1,1159.1L1754.6,1160.0Q1756.5,1160.7 1758.6,1164.2L1761.4,1168.9Q1763.5,1172.4 1764.9,1171.9L1766.7,1171.3Q1768.1,1170.8 1769.5,1166.4L1771.4,1160.4Q1772.8,1156.0 1774.0,1155.5L1775.5,1155.0Q1776.7,1154.5 1778.4,1159.6L1780.5,1166.5Q1782.2,1171.6 1784.8,1176.3L1788.2,1182.5Q1790.7,1187.2 1792.6,1190.0L1795.0,1193.7Q1796.9,1196.5 1798.6,1196.7L1800.8,1197.1Q1802.4,1197.3 1805.0,1196.6L1808.4,1195.7Q1811.0,1195.0 1813.8,1195.7L1817.5,1196.6Q1820.3,1197.3 1823.3,1196.4L1827.4,1195.1Q1830.4,1194.2 1832.5,1195.6L1835.3,1197.5Q1837.4,1198.9 1839.3,1200.8L1841.8,1203.2Q1843.7,1205.1 1846.5,1204.8L1850.2,1204.3Q1853.0,1204.0 1854.9,1205.7L1857.3,1208.1Q1859.2,1209.8 1861.1,1212.3L1863.5,1215.8Q1865.4,1218.3 1868.7,1220.2L1873.0,1222.6Q1876.3,1224.5 1878.6,1227.1L1881.8,1230.5Q1884.1,1233.1 1886.4,1234.3L1889.6,1235.8Q1891.9,1237.0 1894.7,1239.3L1898.5,1242.5Q1901.3,1244.8 1903.2,1244.8L1905.6,1244.9Q1907.5,1244.9 1909.4,1245.5L1911.8,1246.4Q1913.7,1247.1 1915.6,1247.0L1918.1,1246.9Q1920.0,1246.9 1921.8,1247.4L1924.3,1248.1Q1926.2,1248.7 1928.1,1250.3L1930.5,1252.5Q1932.4,1254.1 1934.7,1257.1L1937.9,1261.2Q1940.2,1264.2 1943.5,1265.6L1947.8,1267.5Q1951.1,1268.9 1953.0,1266.8L1955.4,1264.0Q1957.3,1261.9 1959.0,1259.8L1961.1,1257.0Q1962.8,1254.9 1964.4,1257.0L1966.6,1259.8Q1968.2,1261.9 1970.1,1263.8L1972.5,1266.2Q1974.4,1268.1 1976.3,1267.2L1978.8,1265.9Q1980.7,1265.0 1982.6,1264.1L1985.0,1262.8Q1986.9,1261.9 1989.2,1263.8L1992.4,1266.2Q1994.7,1268.1 1997.0,1270.4L2000.1,1273.6Q2002.4,1275.9 2004.7,1278.5L2007.9,1281.9Q2010.2,1284.5 2012.5,1283.8L2015.7,1282.9Q2018.0,1282.2 2019.8,1281.7L2024.0,1280.4"/>
<path stroke="#0000ff" d="M364.1,1245.5L368.3,1241.6Q370.1,1239.9 373.4,1236.8L377.7,1232.8Q381.0,1229.7 382.8,1228.8L385.2,1227.6Q387.0,1226.7 388.8,1226.0L391.2,1225.2Q393.0,1224.5 395.6,1220.9L398.9,1216.2Q401.5,1212.6 404.1,1210.4L407.5,1207.4Q410.1,1205.1 412.6,1203.3L416.0,1200.8Q418.6,1198.9 421.2,1196.6L424.6,1193.5Q427.1,1191.2 429.7,1188.4L433.1,1184.6Q435.7,1181.8 437.8,1178.8L440.5,1174.8Q442.5,1171.8 444.6,1169.0L447.3,1165.2Q449.4,1162.4 451.4,1160.0L454.1,1156.9Q456.2,1154.5 458.8,1150.4L462.1,1144.9Q464.7,1140.8 467.0,1138.1L470.1,1134.5Q472.4,1131.8 474.7,1128.4L477.8,1123.8Q480.1,1120.4 482.2,1116.8L484.9,1112.1Q486.9,1108.5 489.0,1104.6L491.7,1099.4Q493.8,1095.5 495.8,1092.2L498.6,1087.8Q500.6,1084.5 502.6,1080.9L505.4,1076.2Q507.4,1072.7 509.4,1069.0L512.2,1064.2Q514.2,1060.6 516.0,1057.4L518.4,1053.2Q520.2,1050.0 522.0,1047.5L524.4,1044.3Q526.2,1041.8 528.8,1036.7L532.2,1029.8Q534.7,1024.7 537.8,1017.5L541.9,1008.0Q545.0,1000.8 547.6,996.7L551.0,991.3Q553.5,987.2 556.1,983.1L559.5,977.6Q562.1,973.5 563.9,971.1L566.3,967.8Q568.0,965.3 569.8,962.2L572.2,957.9Q574.0,954.7 576.4,948.6L579.5,940.4Q581.9,934.2 584.7,933.0L588.3,931.3Q591.1,930.1 593.6,922.1L597.1,911.4Q599.6,903.4 602.7,897.7L606.8,890.2Q609.9,884.5 610.9,881.4L612.3,877.4Q613.3,874.3 616.4,869.2L620.5,862.3Q623.6,857.2 625.1,852.6L627.2,846.4Q628.7,841.8 630.5,839.3L632.9,835.9Q634.7,833.4 636.4,830.3L638.8,826.2Q640.6,823.1 643.4,819.1L647.2,813.9Q650.0,809.9 652.8,805.6L656.6,800.0Q659.4,795.7 662.0,793.2L665.4,789.8Q668.0,787.2 670.0,783.7L672.8,779.0Q674.8,775.5 676.8,772.3L679.6,768.1Q681.6,765.0 683.4,761.8L685.8,757.6Q687.6,754.4 689.4,751.4L691.8,747.5Q693.6,744.5 695.7,741.9L698.4,738.5Q700.5,735.9 702.5,733.9L705.2,731.2Q707.3,729.1 709.8,726.6L713.2,723.1Q715.8,720.6 718.3,717.0L721.8,712.2Q724.3,708.6 726.4,708.3L729.1,707.9Q731.2,707.6 734.3,702.8L738.3,696.3Q741.4,691.5 743.4,690.2L746.2,688.4Q748.2,687.1 750.3,684.3L753.0,680.7Q755.1,677.9 757.1,677.9L759.9,677.9Q761.9,677.9 765.0,675.8L769.1,673.1Q772.2,671.0 774.0,670.3L776.4,669.5Q778.2,668.8 779.9,667.7L782.3,666.3Q784.1,665.2 785.9,663.3L788.3,660.7Q790.1,658.8 791.9,656.8L794.3,654.2Q796.1,652.2 797.8,651.7L800.2,651.0Q801.9,650.5 804.2,655.3L807.4,661.8Q809.7,666.6 811.8,661.8L814.5,655.3Q816.6,650.5 818.6,650.8L821.4,651.3Q823.4,651.6 825.9,653.1L829.4,655.2Q831.9,656.7 834.5,655.2L837.9,653.1Q840.5,651.6 843.0,651.6L846.5,651.6Q849.0,651.6 851.2,654.7L854.2,658.7Q856.5,661.8 859.4,660.5L863.2,658.7Q866.1,657.4 869.2,656.7L873.3,655.7Q876.4,655.0 879.7,652.9L884.0,650.2Q887.3,648.1 889.6,649.5L892.8,651.5Q895.1,652.9 897.7,653.2L901.1,653.6Q903.7,653.9 906.2,654.2L909.7,654.7Q912.2,655.0 914.8,659.1L918.2,664.5Q920.8,668.6 922.6,670.4L925.0,672.7Q926.8,674.5 928.5,675.8L930.9,677.6Q932.7,678.9 935.8,681.7L939.9,685.3Q943.0,688.1 944.8,687.5L947.2,686.6Q949.0,686.0 950.7,685.6L953.1,685.1Q954.9,684.7 956.7,687.6L959.1,691.4Q960.9,694.2 962.7,697.5L965.1,701.9Q966.9,705.2 969.4,703.2L972.9,700.4Q975.4,698.4 978.0,702.5L981.4,707.9Q984.0,712.0 985.5,711.0L987.6,709.6Q989.1,708.6 991.6,712.0L995.1,716.5Q997.6,719.9 999.4,721.0L1001.8,722.5Q1003.6,723.6 1005.4,724.2L1007.8,725.1Q1009.6,725.7 1012.7,725.7L1016.7,725.7Q1019.8,725.7 1022.9,730.8L1027.0,737.7Q1030.1,742.8 1032.5,746.5L1035.7,751.5Q1038.1,755.2 1040.5,758.1L1043.7,762.0Q1046.1,765.0 1048.2,766.8L1050.9,769.2Q1052.9,771.0 1055.0,772.3L1057.7,773.9Q1059.8,775.2 1062.4,775.3L1065.8,775.5Q1068.3,775.6 1070.9,775.3L1074.3,774.8Q1076.9,774.5 1078.9,781.4L1081.7,790.5Q1083.7,797.4 1086.0,799.9L1089.1,803.1Q1091.4,805.6 1093.7,807.5L1096.8,810.1Q1099.1,812.1 1101.6,812.8L1105.0,813.8Q1107.6,814.5 1110.2,819.1L1113.6,825.3Q1116.2,829.9 1118.8,832.1L1122.2,835.1Q1124.7,837.4 1127.2,837.0L1130.7,836.4Q1133.2,836.0 1135.3,837.6L1138.0,839.7Q1140.1,841.3 1142.1,842.5L1144.8,844.1Q1146.9,845.3 1150.0,849.9L1154.0,856.0Q1157.1,860.6 1158.9,863.0L1161.3,866.1Q1163.1,868.4 1164.9,871.2L1167.3,874.9Q1169.1,877.7 1171.6,878.2L1175.0,878.9Q1177.6,879.4 1180.2,882.2L1183.6,886.0Q1186.2,888.8 1188.7,891.7L1192.1,895.4Q1194.7,898.2 1197.0,901.2L1200.1,905.1Q1202.4,908.1 1204.7,911.3L1207.8,915.5Q1210.1,918.7 1212.6,919.7L1216.0,921.1Q1218.6,922.1 1221.2,925.2L1224.6,929.3Q1227.2,932.4 1229.2,937.0L1232.0,943.2Q1234.0,947.8 1236.0,946.2L1238.8,944.2Q1240.8,942.6 1243.4,947.2L1246.8,953.4Q1249.4,958.0 1251.4,956.3L1254.2,953.9Q1256.2,952.2 1258.3,954.5L1261.0,957.6Q1263.1,959.9 1265.1,962.9L1267.8,967.0Q1269.9,970.0 1273.0,976.7L1277.0,985.5Q1280.1,992.2 1283.2,992.7L1287.3,993.4Q1290.4,993.9 1292.5,995.8L1295.2,998.4Q1297.2,1000.3 1299.3,1003.0L1302.0,1006.5Q1304.1,1009.2 1306.1,1007.5L1308.9,1005.1Q1310.9,1003.4 1312.7,1005.6L1315.1,1008.6Q1316.8,1010.9 1318.6,1013.5L1321.0,1016.9Q1322.8,1019.5 1324.6,1021.6L1327.0,1024.5Q1328.8,1026.6 1330.6,1029.1L1333.0,1032.4Q1334.8,1034.9 1337.9,1035.9L1341.9,1037.3Q1345.0,1038.3 1348.1,1040.3L1352.2,1043.1Q1355.3,1045.1 1358.4,1047.1L1362.4,1049.9Q1365.5,1051.9 1367.7,1054.5L1370.6,1058.0Q1372.8,1060.6 1374.9,1062.9L1377.8,1066.0Q1380.0,1068.3 1382.9,1068.3L1386.9,1068.3Q1389.8,1068.3 1392.1,1073.6L1395.3,1080.6Q1397.6,1085.9 1399.9,1079.8L1403.1,1071.6Q1405.4,1065.4 1407.4,1073.6L1410.2,1084.5Q1412.2,1092.7 1414.8,1093.3L1418.4,1094.1Q1421.0,1094.7 1423.3,1094.4L1426.5,1094.0Q1428.8,1093.7 1431.4,1097.2L1435.0,1101.9Q1437.6,1105.4 1440.2,1107.2L1443.8,1109.5Q1446.4,1111.3 1448.4,1113.0L1451.2,1115.4Q1453.2,1117.1 1455.2,1118.0L1458.0,1119.2Q1460.0,1120.1 1462.3,1125.3L1465.5,1132.3Q1467.8,1137.6 1470.2,1138.8L1473.3,1140.3Q1475.7,1141.5 1478.3,1140.9L1481.8,1140.2Q1484.4,1139.6 1486.5,1139.6L1489.2,1139.6Q1491.3,1139.6 1493.6,1144.6L1496.8,1151.2Q1499.1,1156.2 1501.4,1156.2L1504.6,1156.2Q1506.9,1156.2 1509.2,1157.9L1512.4,1160.3Q1514.7,1162.0 1517.3,1163.8L1520.9,1166.1Q1523.5,1167.9 1525.8,1165.9L1529.0,1163.1Q1531.3,1161.1 1533.3,1163.1L1536.1,1165.9Q1538.1,1167.9 1540.4,1169.4L1543.6,1171.3Q1545.9,1172.8 1548.5,1176.6L1552.1,1181.7Q1554.7,1185.5 1557.0,1187.5L1560.2,1190.3Q1562.5,1192.3 1564.8,1187.9L1568.0,1182.0Q1570.3,1177.6 1572.4,1182.3L1575.1,1188.6Q1577.2,1193.3 1579.5,1193.9L1582.7,1194.6Q1585.0,1195.2 1587.6,1197.0L1591.2,1199.3Q1593.8,1201.1 1596.1,1202.8L1599.3,1205.2Q1601.6,1206.9 1603.9,1206.9L1607.1,1206.9Q1609.4,1206.9 1611.7,1208.1L1614.9,1209.6Q1617.2,1210.8 1619.8,1212.3L1623.4,1214.2Q1626.0,1215.7 1628.3,1216.6L1631.5,1217.7Q1633.8,1218.6 1636.1,1219.8L1639.3,1221.3Q1641.6,1222.5 1643.9,1228.1L1647.1,1235.5Q1649.4,1241.1 1651.4,1237.0L1654.2,1231.5Q1656.2,1227.4 1658.5,1228.3L1661.7,1229.5Q1664.0,1230.4 1666.6,1230.7L1670.2,1231.0Q1672.8,1231.3 1675.1,1234.8L1678.3,1239.5Q1680.6,1243.0 1682.9,1243.3L1686.1,1243.7Q1688.4,1244.0 1690.8,1244.9L1693.9,1246.0Q1696.3,1246.9 1698.3,1245.2L1701.1,1242.8Q1703.1,1241.1 1705.7,1242.0L1709.3,1243.1Q1711.9,1244.0 1713.9,1244.0L1716.7,1244.0Q1718.7,1244.0 1722.1,1248.0L1726.6,1253.2Q1730.0,1257.2 1731.9,1257.3L1734.4,1257.5Q1736.2,1257.6 1738.1,1257.1L1740.6,1256.3Q1742.5,1255.7 1744.8,1256.4L1747.9,1257.3Q1750.2,1258.0 1752.5,1259.9L1755.7,1262.3Q1758.0,1264.2 1760.3,1266.3L1763.5,1269.2Q1765.8,1271.3 1768.1,1272.0L1771.3,1272.9Q1773.6,1273.6 1776.2,1276.4L1779.6,1280.1Q1782.2,1282.9 1784.5,1281.7L1787.6,1280.2Q1789.9,1279.0 1792.2,1281.1L1795.4,1283.9Q1797.7,1286.0 1800.0,1284.1L1803.2,1281.7Q1805.5,1279.8 1808.1,1279.6L1811.5,1279.2Q1814.1,1279.0 1816.4,1281.3L1819.6,1284.5Q1821.9,1286.8 1824.2,1289.8L1827.3,1293.9Q1829.6,1296.9 1831.9,1295.3L1835.1,1293.1Q1837.4,1291.5 1839.5,1290.1L1842.3,1288.2Q1844.4,1286.8 1847.0,1289.6L1850.4,1293.4Q1853.0,1296.2 1855.3,1297.6L1858.5,1299.4Q1860.8,1300.8 1863.1,1300.8L1866.3,1300.8Q1868.6,1300.8 1870.9,1299.9L1874.0,1298.6Q1876.3,1297.7 1878.6,1297.7L1881.8,1297.7Q1884.1,1297.7 1886.4,1300.5L1889.6,1304.3Q1891.9,1307.1 1894.2,1305.9L1897.4,1304.4Q1899.7,1303.2 1902.0,1303.4L1905.2,1303.7Q1907.5,1303.9 1909.8,1307.0L1913.0,1311.0Q1915.3,1314.1 1917.6,1316.6L1920.8,1320.0Q1923.1,1322.6 1925.4,1322.1L1928.5,1321.5Q1930.8,1321.1 1933.1,1321.3L1936.3,1321.7Q1938.6,1321.9 1940.9,1320.5L1944.1,1318.6Q1946.4,1317.2 1948.7,1316.3L1951.9,1315.0Q1954.2,1314.1 1956.5,1316.4L1959.7,1319.6Q1962.0,1321.9 1964.3,1322.1L1967.5,1322.4Q1969.8,1322.6 1972.1,1322.1L1975.2,1321.5Q1977.5,1321.1 1979.8,1322.0L1983.0,1323.3Q1985.3,1324.2 1988.1,1325.1L1991.9,1326.4Q1994.7,1327.3 1997.0,1328.2L2000.1,1329.5Q2002.4,1330.4 2004.7,1330.9L2007.9,1331.5Q2010.2,1332.0 2012.5,1333.4L2015.7,1335.2Q2018.0,1336.6 2019.8,1337.7L2024.0,1340.1"/>
<path stroke="#00d184" d="M364.1,1164.5L368.3,1161.1Q370.1,1159.6 372.4,1157.8L375.4,1155.3Q377.6,1153.5 379.6,1153.1L382.4,1152.6Q384.4,1152.2 386.4,1151.8L389.2,1151.4Q391.2,1151.1 394.3,1147.5L398.4,1142.7Q401.5,1139.1 404.1,1138.1L407.4,1136.7Q410.0,1135.7 412.1,1135.7L414.8,1135.7Q416.9,1135.7 419.4,1132.1L422.8,1127.4Q425.4,1123.8 427.9,1122.2L431.3,1120.2Q433.9,1118.6 436.5,1115.5L439.9,1111.5Q442.5,1108.4 444.8,1106.9L447.9,1105.0Q450.2,1103.5 452.5,1101.4L455.6,1098.5Q457.9,1096.4 459.9,1094.2L462.7,1091.3Q464.7,1089.2 466.7,1086.2L469.5,1082.3Q471.5,1079.4 473.8,1076.4L476.9,1072.4Q479.2,1069.4 481.5,1065.7L484.6,1060.8Q486.9,1057.1 489.5,1054.4L492.9,1050.9Q495.4,1048.2 498.0,1045.8L501.4,1042.5Q504.0,1040.1 506.0,1036.8L508.8,1032.4Q510.8,1029.1 512.8,1026.3L515.6,1022.5Q517.6,1019.6 520.2,1013.5L523.6,1005.2Q526.2,999.1 529.0,994.3L532.8,987.8Q535.6,983.0 538.4,978.6L542.2,972.7Q545.0,968.3 547.0,964.7L549.8,959.8Q551.8,956.1 553.9,952.7L556.6,948.2Q558.7,944.8 560.7,941.6L563.5,937.4Q565.5,934.2 568.0,927.0L571.5,917.4Q574.0,910.2 575.5,908.6L577.6,906.6Q579.1,905.0 582.2,901.9L586.3,897.9Q589.4,894.8 592.5,885.6L596.5,873.3Q599.6,864.1 602.7,859.0L606.8,852.1Q609.9,847.0 613.0,841.9L617.0,835.0Q620.1,829.9 622.2,824.4L624.9,817.0Q627.0,811.4 629.0,805.7L631.7,798.0Q633.8,792.3 636.1,790.0L639.2,787.0Q641.5,784.8 643.8,781.9L646.9,778.1Q649.2,775.2 652.3,770.1L656.3,763.2Q659.4,758.1 662.0,753.0L665.4,746.2Q668.0,741.1 670.5,739.0L674.0,736.3Q676.5,734.2 678.8,730.4L681.9,725.3Q684.2,721.4 686.5,717.1L689.6,711.3Q691.9,706.9 694.2,704.6L697.3,701.5Q699.6,699.1 701.9,696.9L705.0,693.8Q707.3,691.5 709.8,685.9L713.2,678.3Q715.8,672.7 718.9,668.6L722.9,663.2Q726.0,659.1 728.8,657.9L732.6,656.4Q735.4,655.2 738.2,653.8L742.0,651.9Q744.8,650.5 747.6,646.9L751.4,642.1Q754.2,638.5 757.0,634.4L760.8,629.0Q763.6,624.9 765.7,623.0L768.4,620.6Q770.5,618.7 772.5,617.5L775.2,615.9Q777.3,614.7 779.8,611.4L783.2,607.0Q785.8,603.7 787.9,604.4L790.6,605.4Q792.7,606.1 795.2,603.3L798.7,599.7Q801.2,596.9 803.2,596.1L806.0,595.0Q808.0,594.2 810.6,591.3L814.0,587.5Q816.6,584.6 819.1,584.9L822.6,585.3Q825.1,585.6 827.7,586.3L831.1,587.3Q833.7,588.0 835.7,586.3L838.5,583.9Q840.5,582.2 843.0,584.2L846.5,587.0Q849.0,589.0 851.1,587.7L853.8,585.9Q855.9,584.6 858.4,584.9L861.9,585.3Q864.4,585.6 866.9,583.1L870.4,579.6Q872.9,577.1 875.0,576.6L877.7,575.9Q879.8,575.4 882.3,576.7L885.8,578.5Q888.3,579.8 890.6,579.1L893.7,578.2Q896.0,577.5 898.3,576.5L901.4,575.3Q903.7,574.3 906.8,575.6L910.8,577.4Q913.9,578.8 916.0,580.3L918.7,582.3Q920.8,583.8 922.8,584.6L925.5,585.7Q927.6,586.6 929.9,588.9L932.9,591.9Q935.1,594.2 937.5,592.1L940.6,589.4Q943.0,587.3 945.3,591.1L948.4,596.2Q950.7,600.0 953.0,603.3L956.1,607.8Q958.4,611.2 960.9,611.0L964.4,610.8Q966.9,610.6 969.4,614.1L972.9,618.7Q975.4,622.2 978.0,623.0L981.4,624.1Q984.0,624.9 986.0,627.3L988.8,630.4Q990.8,632.8 992.8,634.7L995.6,637.3Q997.6,639.3 999.7,635.5L1002.4,630.4Q1004.5,626.6 1007.0,630.7L1010.5,636.2Q1013.0,640.3 1015.6,640.6L1019.0,641.0Q1021.6,641.3 1024.2,644.8L1027.5,649.4Q1030.1,652.9 1031.8,653.9L1034.2,655.3Q1035.9,656.3 1038.5,661.4L1041.9,668.3Q1044.4,673.4 1047.5,674.8L1051.6,676.5Q1054.7,677.9 1056.9,680.6L1059.9,684.2Q1062.1,686.9 1064.3,689.4L1067.3,692.8Q1069.5,695.3 1071.7,698.2L1074.7,702.2Q1076.9,705.2 1078.9,705.3L1081.7,705.4Q1083.7,705.5 1085.7,705.1L1088.5,704.6Q1090.5,704.2 1093.1,710.4L1096.5,718.6Q1099.1,724.7 1101.3,725.3L1104.3,726.1Q1106.6,726.7 1109.1,729.7L1112.3,733.8Q1114.8,736.9 1117.3,740.2L1120.5,744.6Q1123.0,747.9 1125.3,750.3L1128.4,753.5Q1130.7,755.8 1133.0,757.7L1136.1,760.3Q1138.4,762.2 1141.5,768.7L1145.5,777.3Q1148.6,783.8 1150.4,785.8L1152.8,788.6Q1154.6,790.6 1156.4,791.9L1158.8,793.7Q1160.6,795.0 1163.1,800.5L1166.5,808.0Q1169.1,813.5 1171.6,813.1L1175.0,812.5Q1177.6,812.1 1180.2,813.9L1183.6,816.4Q1186.2,818.2 1188.7,820.2L1192.1,822.8Q1194.7,824.8 1197.3,832.7L1200.7,843.2Q1203.3,851.1 1205.8,850.9L1209.2,850.6Q1211.8,850.4 1214.4,853.3L1217.8,857.2Q1220.3,860.0 1222.9,863.1L1226.3,867.2Q1228.9,870.2 1230.7,873.1L1233.1,877.0Q1234.8,879.9 1236.6,882.1L1239.0,885.1Q1240.8,887.3 1243.4,887.0L1246.8,886.6Q1249.4,886.3 1251.7,889.3L1254.8,893.3Q1257.1,896.2 1259.4,898.9L1262.5,902.4Q1264.8,905.0 1267.1,907.8L1270.2,911.6Q1272.4,914.4 1274.7,917.7L1277.8,922.2Q1280.1,925.5 1282.1,926.6L1284.9,928.0Q1286.9,929.1 1289.0,930.5L1291.7,932.3Q1293.8,933.7 1295.8,935.4L1298.5,937.6Q1300.6,939.2 1302.9,943.4L1306.0,948.9Q1308.3,953.1 1310.6,956.6L1313.7,961.3Q1316.0,964.8 1318.6,966.1L1322.0,967.8Q1324.5,969.0 1327.1,969.8L1330.5,970.9Q1333.1,971.7 1335.7,975.8L1339.1,981.2Q1341.7,985.3 1344.2,989.9L1347.6,996.1Q1350.2,1000.7 1352.8,997.8L1356.2,994.0Q1358.7,991.1 1360.7,998.6L1363.5,1008.6Q1365.5,1016.1 1368.1,1015.6L1371.5,1014.9Q1374.1,1014.4 1375.9,1018.9L1378.2,1024.8Q1380.0,1029.3 1382.9,1026.7L1386.9,1023.1Q1389.8,1020.5 1391.8,1024.6L1394.6,1030.1Q1396.6,1034.2 1399.2,1036.2L1402.8,1039.0Q1405.4,1041.0 1408.0,1044.8L1411.6,1049.9Q1414.2,1053.7 1416.5,1056.0L1419.7,1059.2Q1422.0,1061.5 1423.9,1062.5L1426.4,1063.8Q1428.3,1064.8 1430.3,1065.3L1432.8,1065.9Q1434.7,1066.4 1438.2,1067.3L1442.9,1068.4Q1446.4,1069.3 1448.4,1071.1L1451.2,1073.4Q1453.2,1075.2 1455.8,1078.4L1459.4,1082.7Q1462.0,1085.9 1464.1,1086.8L1466.8,1088.0Q1468.8,1088.9 1470.9,1089.0L1473.6,1089.2Q1475.7,1089.4 1478.9,1094.2L1483.2,1100.6Q1486.4,1105.4 1489.6,1108.6L1493.9,1113.0Q1497.1,1116.2 1500.0,1115.3L1504.0,1114.1Q1506.9,1113.2 1509.2,1118.5L1512.4,1125.5Q1514.7,1130.8 1517.6,1132.0L1521.6,1133.5Q1524.5,1134.7 1526.8,1135.3L1530.0,1136.1Q1532.3,1136.7 1534.6,1139.6L1537.8,1143.5Q1540.1,1146.4 1542.4,1146.1L1545.6,1145.7Q1547.9,1145.4 1550.2,1148.6L1553.4,1153.0Q1555.7,1156.2 1559.2,1155.0L1563.9,1153.5Q1567.4,1152.3 1570.3,1154.3L1574.3,1157.1Q1577.2,1159.1 1580.1,1160.6L1584.0,1162.5Q1586.9,1164.0 1589.2,1165.2L1592.4,1166.7Q1594.7,1167.9 1596.8,1174.1L1599.5,1182.2Q1601.6,1188.4 1603.9,1184.9L1607.1,1180.2Q1609.4,1176.7 1611.7,1178.4L1614.9,1180.8Q1617.2,1182.5 1619.5,1181.3L1622.7,1179.8Q1625.0,1178.6 1627.6,1180.9L1631.2,1184.1Q1633.8,1186.4 1636.1,1188.5L1639.3,1191.2Q1641.6,1193.3 1643.9,1195.3L1647.1,1198.1Q1649.4,1200.1 1651.4,1198.9L1654.2,1197.4Q1656.2,1196.2 1658.3,1198.8L1661.0,1202.4Q1663.1,1205.0 1665.4,1206.7L1668.6,1209.1Q1670.9,1210.8 1673.5,1210.2L1677.1,1209.5Q1679.7,1208.9 1682.0,1212.7L1685.2,1217.8Q1687.5,1221.6 1689.8,1217.8L1693.0,1212.7Q1695.3,1208.9 1697.6,1217.1L1700.8,1228.0Q1703.1,1236.2 1705.7,1236.5L1709.3,1236.9Q1711.9,1237.2 1713.9,1237.2L1716.7,1237.2Q1718.7,1237.2 1721.0,1233.7L1724.2,1229.0Q1726.5,1225.5 1727.5,1226.6L1729.0,1228.1Q1730.0,1229.2 1732.1,1232.2L1734.9,1236.3Q1737.0,1239.3 1739.1,1241.6L1741.9,1244.8Q1744.0,1247.1 1746.1,1247.8L1748.9,1248.8Q1751.0,1249.5 1753.3,1250.7L1756.5,1252.2Q1758.8,1253.4 1760.9,1253.2L1763.7,1252.8Q1765.8,1252.6 1768.1,1254.7L1771.3,1257.5Q1773.6,1259.6 1776.2,1259.4L1779.6,1259.0Q1782.2,1258.8 1784.5,1255.8L1787.6,1251.7Q1789.9,1248.7 1792.2,1251.0L1795.4,1254.2Q1797.7,1256.5 1800.0,1253.7L1803.2,1249.9Q1805.5,1247.1 1807.8,1253.6L1811.0,1262.4Q1813.3,1268.9 1815.6,1268.9L1818.8,1268.9Q1821.1,1268.9 1823.6,1271.9L1827.0,1276.0Q1829.6,1279.0 1831.9,1279.2L1835.1,1279.6Q1837.4,1279.8 1839.7,1279.8L1842.9,1279.8Q1845.2,1279.8 1847.5,1279.1L1850.7,1278.2Q1853.0,1277.5 1855.3,1279.1L1858.5,1281.3Q1860.8,1282.9 1863.1,1283.4L1866.3,1284.0Q1868.6,1284.5 1870.9,1287.1L1874.0,1290.5Q1876.3,1293.1 1878.6,1289.6L1881.8,1284.9Q1884.1,1281.4 1886.4,1287.5L1889.6,1295.5Q1891.9,1301.6 1894.2,1299.7L1897.4,1297.3Q1899.7,1295.4 1902.0,1293.8L1905.2,1291.6Q1907.5,1289.9 1909.8,1290.1L1913.0,1290.5Q1915.3,1290.7 1917.6,1293.3L1920.8,1296.7Q1923.1,1299.3 1925.4,1300.7L1928.5,1302.5Q1930.8,1303.9 1933.1,1307.2L1936.3,1311.5Q1938.6,1314.8 1940.9,1313.4L1944.1,1311.6Q1946.4,1310.2 1948.7,1308.3L1951.9,1305.8Q1954.2,1303.9 1956.8,1307.4L1960.2,1312.1Q1962.8,1315.6 1964.9,1315.4L1967.7,1315.0Q1969.8,1314.8 1972.1,1314.8L1975.2,1314.8Q1977.5,1314.8 1979.8,1315.5L1983.0,1316.5Q1985.3,1317.2 1987.6,1317.9L1990.8,1318.8Q1993.1,1319.5 1995.7,1316.5L1999.1,1312.4Q2001.7,1309.4 2004.2,1312.0L2007.7,1315.4Q2010.2,1318.0 2012.5,1320.3L2015.7,1323.4Q2018.0,1325.7 2019.8,1327.5L2024.0,1331.6"/>
</g>
<text transform="translate(165.5,1088.3) scale(1,1.04)" font-size="69.0">1x10<tspan font-size="47" dx="0.5" dy="-26.7">7</tspan></text>
<text transform="translate(165.5,756.8) scale(1,1.04)" font-size="69.0">2x10<tspan font-size="47" dx="0.5" dy="-26.7">7</tspan></text>
<text transform="translate(165.5,427.2) scale(1,1.04)" font-size="69.0">3x10<tspan font-size="47" dx="0.5" dy="-26.7">7</tspan></text>
<text transform="translate(165.5,94.1) scale(1,1.04)" font-size="69.0">4x10<tspan font-size="47" dx="0.5" dy="-26.7">7</tspan></text>
<text transform="translate(340.8,1413.3) scale(1,1.04)" font-size="69.0" text-anchor="end">0</text>
<text transform="translate(604.3,1474.6) scale(1,1.04)" font-size="69.0" text-anchor="middle">600</text>
<text transform="translate(918.2,1474.6) scale(1,1.04)" font-size="69.0" text-anchor="middle">640</text>
<text transform="translate(1232.1,1474.6) scale(1,1.04)" font-size="69.0" text-anchor="middle">680</text>
<text transform="translate(1546.1,1474.6) scale(1,1.04)" font-size="69.0" text-anchor="middle">720</text>
<text transform="translate(1860.0,1474.6) scale(1,1.04)" font-size="69.0" text-anchor="middle">760</text>
<text transform="translate(853.2,1618.0) scale(1,1.02)" font-size="82.2">Wavelength (nm)</text>
<text transform="translate(86.6,1079.5) rotate(-90) scale(1,1.02)" font-size="82">PL intensity (counts)</text>
<rect x="1576.6" y="148.1" width="188.8" height="7" rx="2" fill="#ff8000"/>
<text transform="translate(1784.3,179.4) scale(1,1.04)" font-size="82.5">12</text>
<rect x="1576.6" y="247.8" width="188.8" height="7" rx="2" fill="#000000"/>
<text transform="translate(1784.3,279.0) scale(1,1.04)" font-size="82.5">13</text>
<rect x="1576.6" y="347.4" width="188.8" height="7" rx="2" fill="#ff0000"/>
<text transform="translate(1784.3,378.6) scale(1,1.04)" font-size="82.5">14</text>
<rect x="1576.6" y="447.1" width="188.8" height="7" rx="2" fill="#0000ff"/>
<text transform="translate(1784.3,478.2) scale(1,1.04)" font-size="82.5">15</text>
<rect x="1576.6" y="546.7" width="188.8" height="7" rx="2" fill="#00d184"/>
<text transform="translate(1784.3,577.8) scale(1,1.04)" font-size="82.5">16</text>
</svg></body></html>
